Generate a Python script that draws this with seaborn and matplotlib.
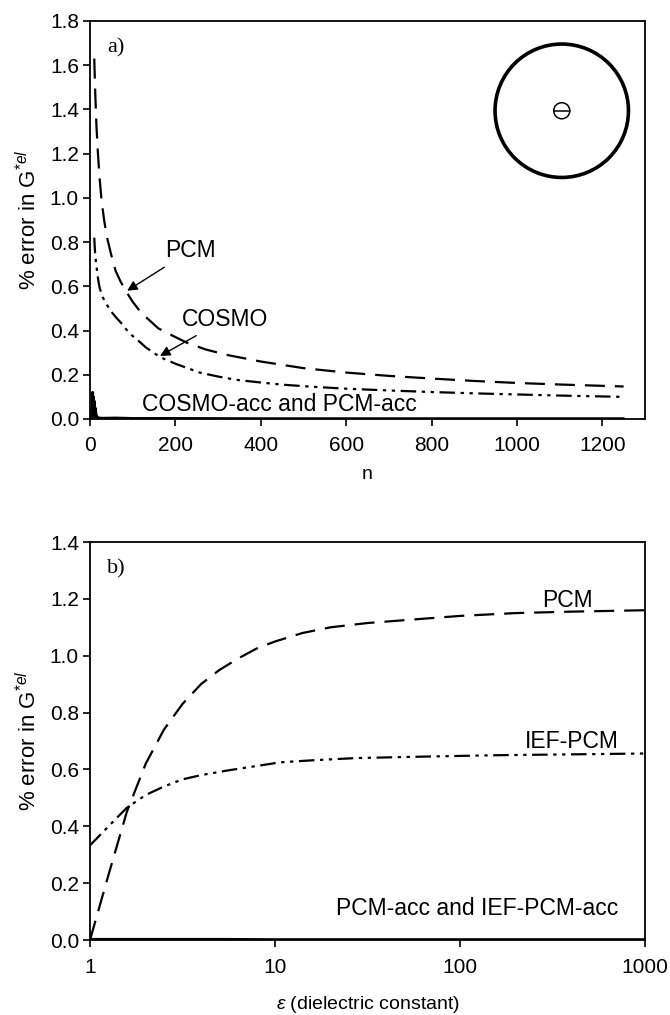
import numpy as np
import pandas as pd
import matplotlib
matplotlib.use("Agg")
import matplotlib.pyplot as plt
import seaborn as sns
from matplotlib.patches import Circle
from matplotlib.ticker import FixedLocator, NullLocator, FixedFormatter

# ---- panel a) : error vs number of surface elements n
n_pcm = [10, 12, 15, 18, 22, 27, 33, 40, 50, 60, 72, 87, 100, 120, 140, 160,
         190, 227, 270, 320, 400, 500, 600, 700, 800, 900, 1000, 1100, 1250]
err_pcm = [1.63, 1.49, 1.33, 1.22, 1.10, 0.99, 0.90, 0.82, 0.74, 0.67, 0.62,
           0.57, 0.53, 0.48, 0.445, 0.41, 0.38, 0.345, 0.315, 0.29, 0.26,
           0.23, 0.21, 0.195, 0.183, 0.172, 0.163, 0.156, 0.147]

n_cosmo = [10, 11, 12, 14, 17, 20, 23, 30, 40, 50, 63, 75, 85, 100, 110, 130,
           164, 200, 257, 300, 343, 400, 452, 520, 600, 700, 800, 900, 1000,
           1100, 1250]
err_cosmo = [0.82, 0.78, 0.75, 0.71, 0.66, 0.62, 0.59, 0.55, 0.515, 0.485,
             0.455, 0.43, 0.405, 0.375, 0.36, 0.325, 0.28, 0.25, 0.21, 0.192,
             0.177, 0.165, 0.155, 0.146, 0.137, 0.129, 0.122, 0.116, 0.111,
             0.106, 0.100]

n_acc = [4, 5, 6, 7, 8, 9, 10, 11, 12, 14, 16, 20, 30, 60, 100, 200, 400,
         600, 800, 1000, 1250]
err_acc = [0.0, 0.06, 0.12, 0.02, 0.10, 0.03, 0.08, 0.01, 0.05, 0.02, 0.01,
           0.004, 0.003, 0.004, 0.002, 0.002, 0.001, 0.001, 0.001, 0.001, 0.001]

# ---- panel b) : error vs dielectric constant
eps_pcm = [1.0, 1.26, 1.58, 2.0, 2.51, 3.16, 3.98, 5.01, 6.31, 7.94, 10,
           14.1, 20, 31.6, 63, 100, 200, 398, 1000]
errb_pcm = [0.0, 0.23, 0.45, 0.62, 0.74, 0.83, 0.90, 0.95, 0.99, 1.025, 1.05,
            1.08, 1.10, 1.115, 1.13, 1.14, 1.15, 1.155, 1.16]

eps_ief = [1.0, 1.26, 1.58, 2.0, 2.51, 3.16, 3.98, 5.62, 7.94, 10.7, 15.8,
           27.5, 63, 158, 398, 1000]
errb_ief = [0.333, 0.40, 0.465, 0.51, 0.54, 0.565, 0.58, 0.597, 0.612, 0.625,
            0.632, 0.64, 0.645, 0.65, 0.653, 0.656]

eps_acc = [1.0, 2, 5, 10, 50, 100, 500, 1000]
errb_acc = [0.002, 0.002, 0.002, 0.001, 0.001, 0.001, 0.001, 0.001]

sns.set_style("ticks")
plt.rcParams["font.family"] = ["Liberation Sans", "DejaVu Sans"]
plt.rcParams["mathtext.fontset"] = "custom"
plt.rcParams["mathtext.rm"] = "Liberation Sans"
plt.rcParams["mathtext.it"] = "Liberation Sans:italic"
for k in ["text.color", "axes.labelcolor", "xtick.color", "ytick.color",
          "axes.edgecolor"]:
    plt.rcParams[k] = "black"

DASH = (9, 4.5)
DASHDOTDOT = (7, 2.5, 1.5, 2.5, 1.5, 2.5)
ANN = 16.5
YLAB = r"% error in G$^{*el}$"

fig = plt.figure(figsize=(6.7, 10.15), dpi=100)
W, H = 670, 1015


def box(l, r, t, b):
    return [l / W, 1 - b / H, (r - l) / W, (b - t) / H]


def style_axes(ax):
    for s in ax.spines.values():
        s.set_linewidth(1.3)
    ax.tick_params(axis="both", direction="out", length=5, width=1.2,
                   labelsize=15)
    ax.tick_params(axis="y", pad=3)
    ax.tick_params(axis="x", pad=7)
    ax.tick_params(top=False, right=False)


# ---------- panel a
ax1 = fig.add_axes(box(90, 645, 21, 419))
df = pd.DataFrame({"n": n_pcm, "err": err_pcm})
sns.lineplot(data=df, x="n", y="err", ax=ax1, color="black", lw=1.6,
             linestyle=(0, DASH))
df = pd.DataFrame({"n": n_cosmo, "err": err_cosmo})
sns.lineplot(data=df, x="n", y="err", ax=ax1, color="black", lw=1.6,
             linestyle=(0, DASHDOTDOT))
df = pd.DataFrame({"n": n_acc, "err": err_acc})
sns.lineplot(data=df, x="n", y="err", ax=ax1, color="black", lw=2.2)

ax1.set_xlim(0, 1300)
ax1.set_ylim(0, 1.8)
ax1.set_xticks([0, 200, 400, 600, 800, 1000, 1200])
ax1.set_yticks(np.arange(0, 1.81, 0.2))
ax1.set_yticklabels([f"{v:.1f}" for v in np.arange(0, 1.81, 0.2)])
style_axes(ax1)
ax1.set_xlabel("n", fontsize=14, labelpad=8)
ax1.set_ylabel(YLAB, fontsize=16, labelpad=6)

ax1.text(40, 1.68, "a)", family="Liberation Serif", fontsize=16, va="center")
ax1.annotate("PCM", xy=(87, 0.58), xytext=(175, 0.76), fontsize=ANN,
             va="center", ha="left",
             arrowprops=dict(arrowstyle="-|>", color="black", lw=1.0,
                             shrinkA=2, shrinkB=0, mutation_scale=15))
ax1.annotate("COSMO", xy=(164, 0.285), xytext=(215, 0.45), fontsize=ANN,
             va="center", ha="left",
             arrowprops=dict(arrowstyle="-|>", color="black", lw=1.0,
                             shrinkA=2, shrinkB=0, mutation_scale=15))
ax1.text(122, 0.065, "COSMO-acc and PCM-acc", fontsize=ANN, va="center",
         ha="left")

# inset: ion in spherical cavity
ins = ax1.inset_axes([0.724, 0.599, 0.252, 0.351])
ins.set_xlim(-1, 1)
ins.set_ylim(-1, 1)
ins.set_aspect("equal")
ins.axis("off")
ins.add_patch(Circle((0, 0), 0.955, fill=False, lw=2.6, color="black"))
ins.add_patch(Circle((0, 0), 0.115, fill=False, lw=1.1, color="black"))
ins.plot([-0.115, 0.115], [0, 0], color="black", lw=1.1)

# ---------- panel b
ax2 = fig.add_axes(box(90, 645, 542, 940))
df = pd.DataFrame({"eps": eps_pcm, "err": errb_pcm})
sns.lineplot(data=df, x="eps", y="err", ax=ax2, color="black", lw=1.6,
             linestyle=(0, DASH))
df = pd.DataFrame({"eps": eps_ief, "err": errb_ief})
sns.lineplot(data=df, x="eps", y="err", ax=ax2, color="black", lw=1.6,
             linestyle=(0, DASHDOTDOT))
df = pd.DataFrame({"eps": eps_acc, "err": errb_acc})
sns.lineplot(data=df, x="eps", y="err", ax=ax2, color="black", lw=2.2)

ax2.set_xscale("log")
ax2.set_xlim(1, 1000)
ax2.set_ylim(0, 1.4)
ax2.xaxis.set_major_locator(FixedLocator([1, 10, 100, 1000]))
ax2.xaxis.set_major_formatter(FixedFormatter(["1", "10", "100", "1000"]))
ax2.xaxis.set_minor_locator(NullLocator())
ax2.set_yticks(np.arange(0, 1.41, 0.2))
ax2.set_yticklabels([f"{v:.1f}" for v in np.arange(0, 1.41, 0.2)])
style_axes(ax2)
ax2.tick_params(axis="x", pad=8)
ax2.set_xlabel(r"$\varepsilon$ (dielectric constant)", fontsize=14,
               labelpad=12)
ax2.set_ylabel(YLAB, fontsize=16, labelpad=6)

ax2.text(1.24, 1.305, "b)", family="Liberation Serif", fontsize=16,
         va="center")
ax2.text(380, 1.195, "PCM", fontsize=ANN, ha="center", va="center")
ax2.text(400, 0.70, "IEF-PCM", fontsize=ANN, ha="center", va="center")
ax2.text(720, 0.11, "PCM-acc and IEF-PCM-acc", fontsize=ANN, ha="right",
         va="center")

fig.savefig("out.png", dpi=100, facecolor="white")
